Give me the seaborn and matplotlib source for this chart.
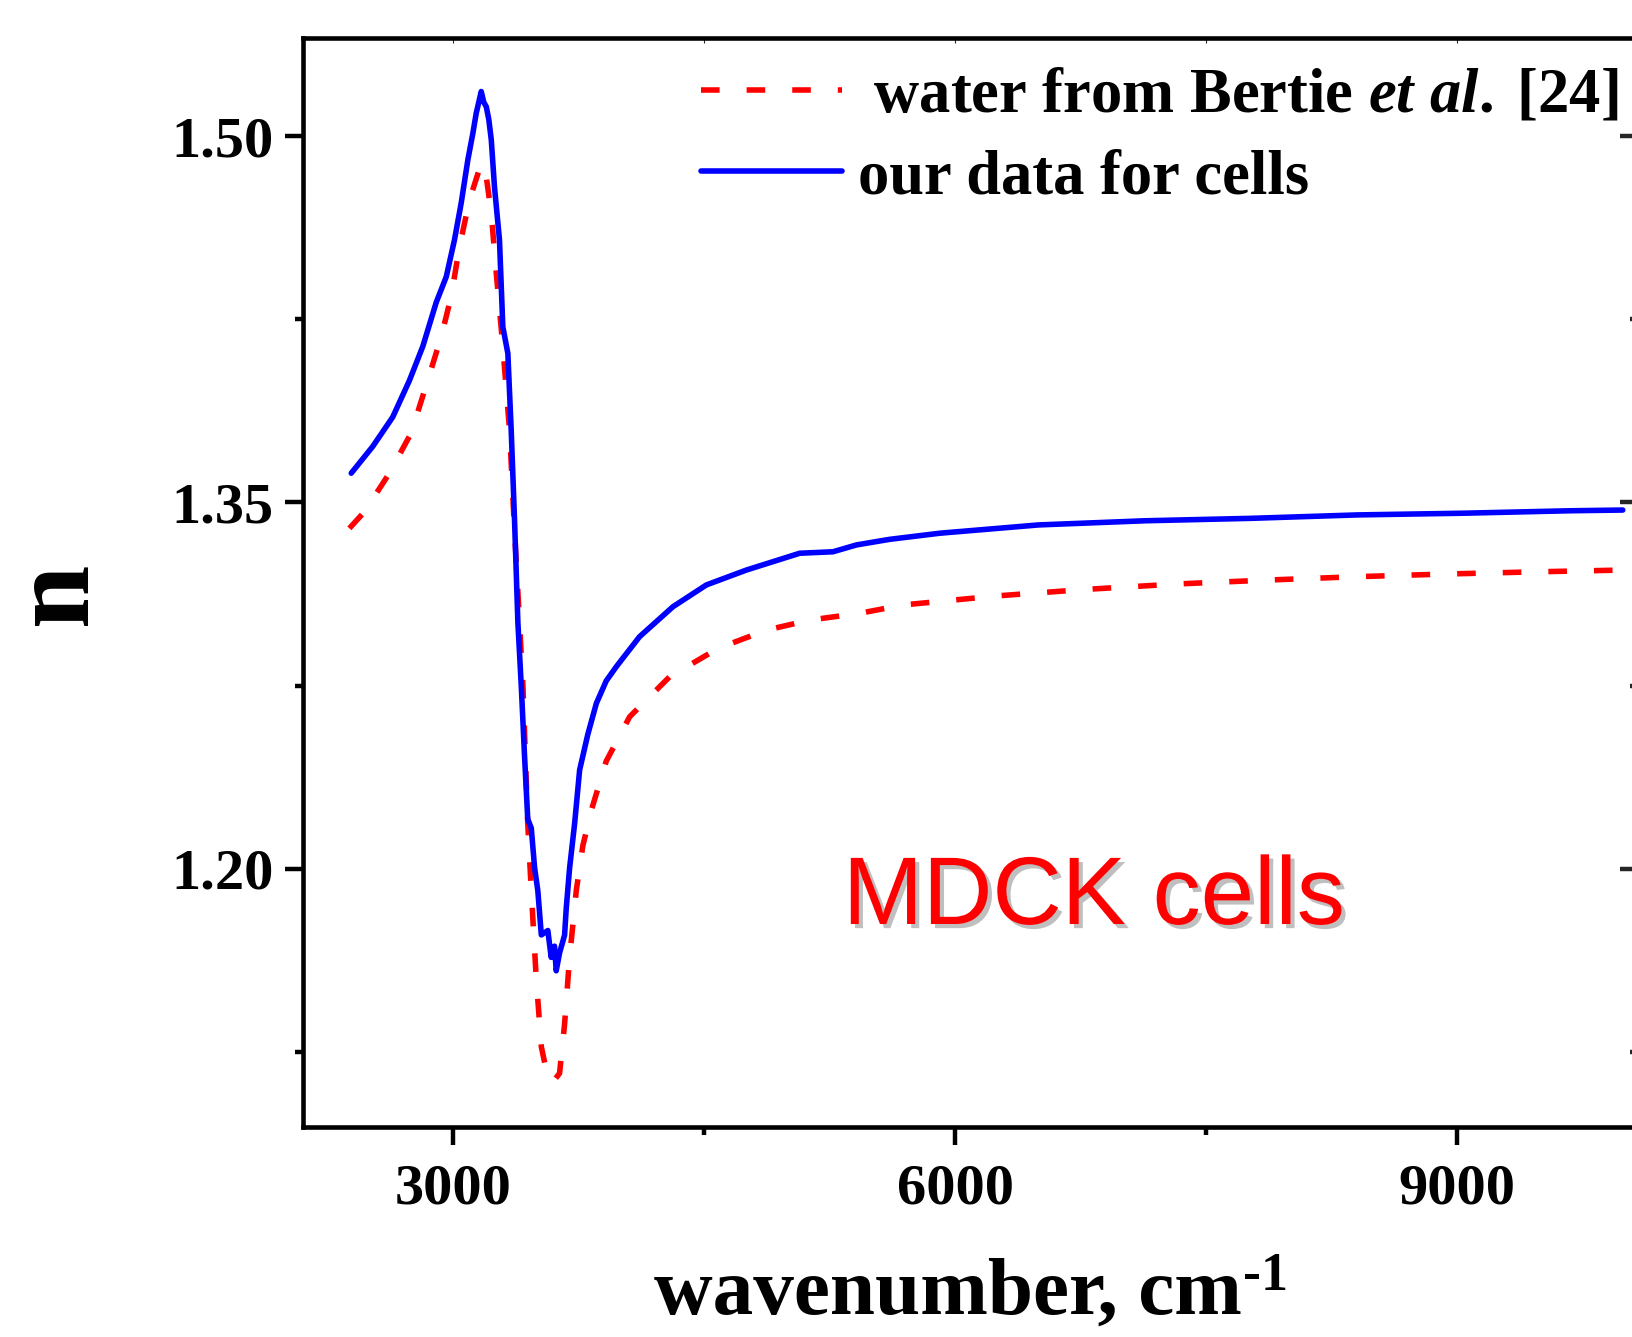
import numpy as np
import pandas as pd
import matplotlib
matplotlib.use("Agg")
import matplotlib.pyplot as plt
import matplotlib.patheffects as pe
from matplotlib.ticker import MultipleLocator, FormatStrFormatter
import seaborn as sns

# ---------------- data ----------------
cells_wn = [2390, 2519, 2638, 2738, 2818, 2898, 2958, 3007, 3047, 3087, 3117, 3137,
            3167, 3182, 3197, 3212, 3227, 3246, 3276, 3296, 3326, 3346, 3366, 3386,
            3406, 3426, 3445, 3466, 3486, 3505, 3526, 3565, 3585, 3605, 3615, 3635,
            3665, 3675, 3695, 3725, 3755, 3804, 3855, 3914, 3974, 4113, 4313, 4512,
            4751, 5070, 5269, 5409, 5608, 5907, 6498, 7133, 7767, 8402, 9037, 9671, 9989]
cells_n = [1.362, 1.373, 1.385, 1.400, 1.414, 1.432, 1.4425, 1.4576, 1.4726, 1.4904, 1.5013, 1.5095,
           1.5184, 1.5140, 1.5122, 1.5070, 1.4986, 1.4794, 1.4576, 1.4220, 1.4111, 1.3797, 1.3427, 1.3007,
           1.2751, 1.2458, 1.2202, 1.2166, 1.2002, 1.1910, 1.1728, 1.1746, 1.1636, 1.1682, 1.1581, 1.1654,
           1.1727, 1.1837, 1.2002, 1.2184, 1.2404, 1.2550, 1.2677, 1.2769, 1.2827, 1.2950, 1.3073, 1.3162,
           1.3223, 1.3292, 1.3298, 1.3326, 1.3349, 1.3374, 1.3408, 1.3425, 1.3435, 1.3449, 1.3456, 1.3466, 1.3469]

water_wn = [2379, 2469, 2618, 2748, 2848, 2928, 2987, 3037, 3097, 3167, 3197, 3227,
            3257, 3296, 3336, 3366, 3416, 3445, 3466, 3496, 3526, 3565, 3595, 3635,
            3665, 3695, 3735, 3774, 3825, 3914, 4054, 4293, 4582, 4871, 5130, 5429,
            5688, 6244, 6783, 7323, 7862, 8402, 8942, 9481, 9982]
water_n = [1.3394, 1.3462, 1.3620, 1.3784, 1.4002, 1.4180, 1.4343, 1.4548, 1.4740, 1.4890, 1.4835, 1.4685,
           1.4439, 1.4139, 1.3797, 1.3387, 1.2751, 1.2184, 1.1910, 1.1545, 1.1270, 1.1143, 1.1125, 1.1161,
           1.1362, 1.1636, 1.1910, 1.2093, 1.2239, 1.2440, 1.2622, 1.2786, 1.2902, 1.2977, 1.3018, 1.3046,
           1.3080, 1.3117, 1.3144, 1.3166, 1.3182, 1.3196, 1.3207, 1.3216, 1.3223]

x_major = [3000, 6000, 9000]
y_major = [1.20, 1.35, 1.50]
label_water = r" water from Bertie $\mathit{et\ al.}\;$[24]"
label_cells = "our data for cells"
x_title = "wavenumber, cm"
x_title_sup = "-1"
y_title = "n"
annotation = "MDCK cells"

# ---------------- style ----------------
sns.set_theme(style="ticks")
plt.rcParams["font.family"] = ["Liberation Serif", "DejaVu Serif"]
plt.rcParams["font.weight"] = "bold"
plt.rcParams["text.color"] = "black"
plt.rcParams["axes.labelcolor"] = "black"
plt.rcParams["mathtext.fontset"] = "custom"
plt.rcParams["mathtext.rm"] = "Liberation Serif:bold"
plt.rcParams["mathtext.bf"] = "Liberation Serif:bold"
plt.rcParams["mathtext.it"] = "Liberation Serif:italic:bold"

W, H = 1632, 1337
fig = plt.figure(figsize=(W / 100, H / 100), dpi=100)
L, R, T, B = 302.7, 1638.0, 38.3, 1126.5
ax = fig.add_axes([L / W, 1 - B / H, (R - L) / W, (B - T) / H])

df_w = pd.DataFrame({"wn": water_wn, "n": water_n})
df_c = pd.DataFrame({"wn": cells_wn, "n": cells_n})

LW = 4.0
DASH = (0, (3.35, 4.86))
sns.lineplot(data=df_w, x="wn", y="n", ax=ax, color="#FF0000", linewidth=LW,
             linestyle=DASH, label=label_water, estimator=None)
sns.lineplot(data=df_c, x="wn", y="n", ax=ax, color="#0000FF", linewidth=LW,
             label=label_cells, estimator=None)
for ln in ax.lines:
    ln.set_linewidth(LW)
ax.lines[0].set_linestyle(DASH)

ax.set_xlim(2100, 10080)
ax.set_ylim(1.0943, 1.5402)

for s in ax.spines.values():
    s.set_linewidth(3.3)
    s.set_color("black")

ax.xaxis.set_minor_locator(MultipleLocator(1500))
ax.yaxis.set_minor_locator(MultipleLocator(0.075))
ax.set_xticks(x_major)
ax.set_yticks(y_major)
ax.yaxis.set_major_formatter(FormatStrFormatter("%.2f"))

ax.tick_params(axis="both", which="major", direction="out", length=13, width=3.2,
               labelsize=42, color="black", labelcolor="black")
ax.tick_params(axis="both", which="minor", direction="out", length=5.5, width=3.2, color="black")
ax.tick_params(axis="x", which="major", pad=14)
ax.tick_params(axis="y", which="major", pad=8)
for lab in ax.get_xticklabels() + ax.get_yticklabels():
    lab.set_fontweight("bold")

# inward ticks on the right and top
secy = ax.secondary_yaxis("right")
secy.set_yticks(y_major)
secy.yaxis.set_minor_locator(MultipleLocator(0.075))
secy.tick_params(which="major", direction="in", length=13, width=3.2, labelright=False)
secy.tick_params(which="minor", direction="in", length=6, width=3.2)
secx = ax.secondary_xaxis("top")
secx.set_xticks(x_major)
secx.xaxis.set_minor_locator(MultipleLocator(1500))
secx.tick_params(which="both", direction="in", length=3.5, width=0.8, labeltop=False)
for sa in (secx, secy):
    for s in sa.spines.values():
        s.set_visible(False)

# axis labels
ax.set_xlabel(x_title, fontsize=58.5, fontweight="bold", color="black")
ax.xaxis.label.set_va("top")
ax.xaxis.set_label_coords((948 - L) / (R - L), (B - 1258) / (B - T))
ax.annotate(x_title_sup, xy=(1, 1), xycoords=ax.xaxis.label, xytext=(1, 4),
            textcoords="offset points", ha="left", va="top", fontsize=39,
            fontweight="bold", color="black")
ax.set_ylabel(y_title, fontsize=82, fontweight="bold", color="black")
ax.yaxis.label.set_va("center")
ax.yaxis.set_label_coords((58 - L) / (R - L), (B - 593) / (B - T))

# legend
handles, labels = ax.get_legend_handles_labels()
leg = ax.legend(handles, labels, loc="upper left",
                bbox_to_anchor=(701 / W, 1 - 68 / H), bbox_transform=fig.transFigure,
                frameon=False, borderpad=0, borderaxespad=0,
                handlelength=2.25, handletextpad=0.26, labelspacing=0.37,
                prop={"weight": "bold", "size": 45})
for t in leg.get_texts():
    t.set_color("black")
for hl in leg.get_lines():
    hl.set_linewidth(LW)

# annotation
ax.text((1094 - L) / (R - L), (B - 924) / (B - T), annotation,
        transform=ax.transAxes, ha="center", va="baseline", color="#FF0000",
        fontsize=69.2, family="Liberation Sans", fontweight="normal",
        path_effects=[pe.withSimplePatchShadow(offset=(3, -3), shadow_rgbFace="0.45", alpha=0.45)])

fig.savefig("out.png", dpi=100)
